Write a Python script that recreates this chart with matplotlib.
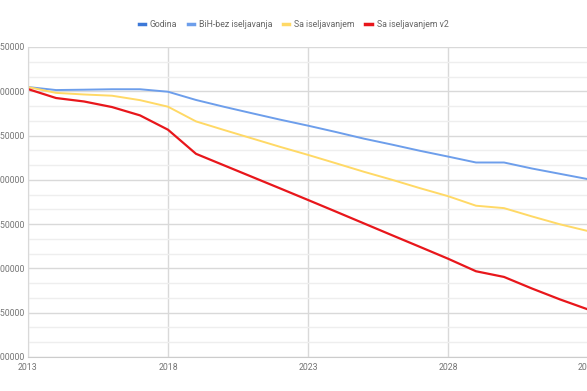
import numpy as np
import matplotlib
matplotlib.use("Agg")
import matplotlib.pyplot as plt
from matplotlib.ticker import MultipleLocator, FuncFormatter

# data
godina = list(range(2013, 2034))
bih_bez = [3504800, 3501400, 3501800, 3502300, 3502300, 3499500, 3490200,
           3482500, 3475200, 3468000, 3461200, 3454000, 3446500, 3439800,
           3432800, 3426300, 3419600, 3419600, 3412800, 3406800, 3400800]
sa_isel = [3504800, 3498200, 3496400, 3495000, 3490000, 3482600, 3466000,
           3456300, 3446800, 3437300, 3428200, 3418700, 3409100, 3400100,
           3390600, 3381600, 3370800, 3368100, 3358700, 3349800, 3342200]
sa_isel_v2 = [3502500, 3492400, 3488500, 3482200, 3472800, 3456600, 3429400,
              3416400, 3403400, 3390400, 3377300, 3364100, 3350800, 3337500,
              3324300, 3311000, 3296800, 3290400, 3277300, 3265000, 3253700]

x_ticks = [2013, 2018, 2023, 2028, 2033]
y_ticks = [3200000, 3250000, 3300000, 3350000, 3400000, 3450000, 3500000, 3550000]

labels = ["Godina", "BiH-bez iseljavanja", "Sa iseljavanjem", "Sa iseljavanjem v2"]
colors = ["#3c78d8", "#6d9eeb", "#ffd966", "#e8161b"]

plt.rcParams['font.family'] = ['Roboto', 'DejaVu Sans']

fig = plt.figure(figsize=(5.87, 3.91), dpi=100)
ax = fig.add_axes([28 / 587, 1 - 357 / 391, 560 / 587, 310 / 391])

series = [godina, bih_bez, sa_isel, sa_isel_v2]
widths = [1.4, 1.4, 1.4, 1.6]
for vals, lab, col, w in zip(series, labels, colors, widths):
    ax.plot(godina, vals, color=col, lw=w, label=lab, solid_joinstyle='round')

ax.set_xlim(2013, 2033)
ax.set_ylim(3200000, 3550000)
ax.set_xticks(x_ticks)
ax.set_yticks(y_ticks)
ax.yaxis.set_major_formatter(FuncFormatter(lambda v, p: "%d" % v))
ax.yaxis.set_minor_locator(MultipleLocator(50000 / 3))

ax.grid(True, which='major', color='#d9d9d9', lw=1)
ax.grid(True, which='minor', axis='y', color='#eeeeee', lw=1)
ax.set_axisbelow(True)
for side in ['top', 'right']:
    ax.spines[side].set_visible(False)
ax.spines['left'].set_color('#d9d9d9')
ax.spines['bottom'].set_color('#cccccc')
ax.tick_params(which='both', length=0, labelsize=6.3, labelcolor='#757575')
ax.tick_params(axis='y', pad=2.5)
ax.tick_params(axis='x', pad=4)

fig.legend(loc='center', bbox_to_anchor=(0.5, 1 - 24.5 / 391), ncol=4,
           frameon=False, fontsize=6.3, handlelength=0.7, handletextpad=0.6,
           columnspacing=1.2, labelcolor='#666666')
for line in fig.legends[0].get_lines():
    line.set_linewidth(2.5)

fig.savefig("out.png", dpi=100)
